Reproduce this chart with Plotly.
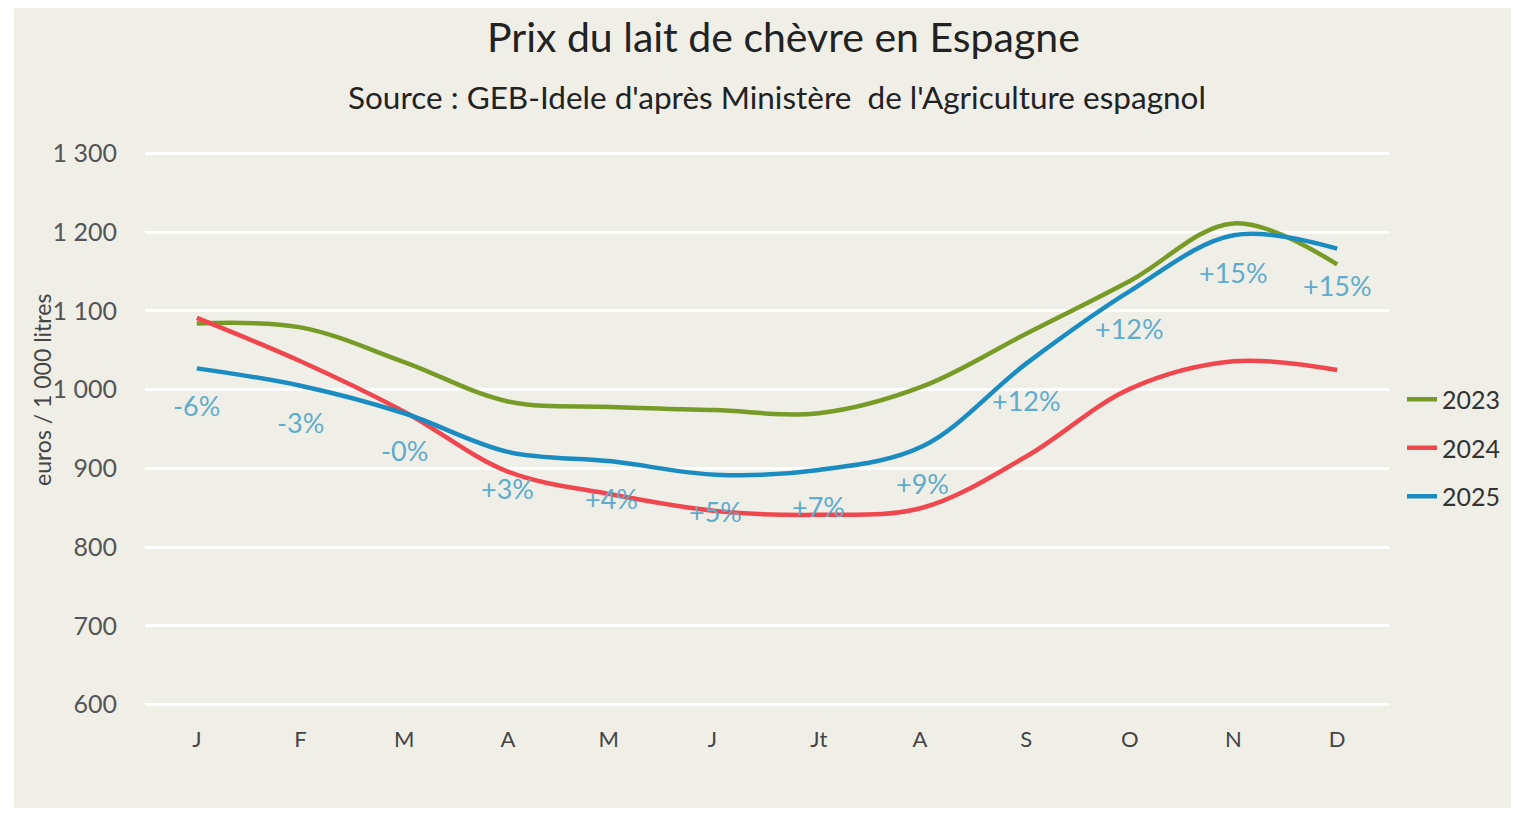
import plotly.graph_objects as go

months = ["J", "F", "M", "A", "M ", "J ", "Jt", "A ", "S", "O", "N", "D"]
prix_2023 = [1084, 1079, 1035, 985, 978, 974, 970, 1004, 1071, 1138, 1211, 1159]
prix_2024 = [1091, 1036, 972, 896, 867, 846, 841, 850, 915, 1001, 1036, 1025]
prix_2025 = [1027, 1005, 970, 921, 909, 892, 898, 928, 1033, 1125, 1196, 1179]
evolution = ["-6%", "-3%", "-0%", "+3%", "+4%", "+5%", "+7%", "+9%", "+12%", "+12%", "+15%", "+15%"]

BG = "#efefe8"
FONT = "Lato"

# figure geometry (page body adds an 8px margin)
W, H = 1519, 805
L, R, T, B = 137, 138, 143, 106
PW, PH = W - L - R, H - T - B


def px(x):
    return (x - 8 - L) / PW


def py(y):
    return (H - B - (y - 8)) / PH


fig = go.Figure()

series = [
    ("2023", prix_2023, "#789b27"),
    ("2024", prix_2024, "#f0474f"),
    ("2025", prix_2025, "#1b8cc2"),
]
for name, vals, color in series:
    fig.add_trace(go.Scatter(
        x=months, y=vals, name=name, mode="lines",
        line=dict(color=color, width=4.5, shape="spline", smoothing=1),
        legendgroup=name,
    ))

# % evolution 2025/2024 written under the 2025 curve
for m, v, txt in zip(months, prix_2025, evolution):
    fig.add_annotation(x=m, y=v, text=txt, showarrow=False, yshift=-37,
                       font=dict(family=FONT, size=27, color="#5fabcb"))

# beige panel with white frame
fig.add_shape(type="rect", xref="paper", yref="paper",
              x0=px(14), x1=px(1540), y0=py(808), y1=py(-5),
              fillcolor=BG, line_width=0, layer="below")

fig.add_annotation(xref="paper", yref="paper", x=px(42), y=py(390),
                   xanchor="center", yanchor="middle",
                   text="euros / 1 000 litres", textangle=-90, showarrow=False,
                   font=dict(family=FONT, size=23, color="#444"))

fig.add_annotation(xref="paper", yref="paper", x=px(783), y=py(37),
                   xanchor="center", yanchor="middle", showarrow=False,
                   text="Prix du lait de chèvre en Espagne",
                   font=dict(family=FONT, size=41, color="#222"))
fig.add_annotation(xref="paper", yref="paper", x=px(777), y=py(97),
                   xanchor="center", yanchor="middle", showarrow=False,
                   text="Source : GEB-Idele d'après Ministère  de l'Agriculture espagnol",
                   font=dict(family=FONT, size=31.5, color="#222"))

fig.update_layout(
    width=W, height=H,
    paper_bgcolor="white", plot_bgcolor="rgba(0,0,0,0)",
    margin=dict(l=L, r=R, t=T, b=B),
    separators=", ",
    font=dict(family=FONT, color="#333"),
    xaxis=dict(
        type="category", range=[-0.5, 11.5], showgrid=False, zeroline=False,
        showline=False, ticks="outside", ticklen=13, tickcolor="rgba(0,0,0,0)",
        tickfont=dict(family=FONT, size=22, color="#444"),
    ),
    yaxis=dict(
        range=[597, 1303], tickvals=[600, 700, 800, 900, 1000, 1100, 1200, 1300],
        tickformat=",.0f",
        showgrid=True, gridcolor="white", gridwidth=2.5, zeroline=False,
        ticks="outside", ticklen=22, tickcolor="rgba(0,0,0,0)",
        tickfont=dict(family=FONT, size=25, color="#555"),
    ),
    legend=dict(
        x=px(1402), xanchor="left", y=py(448), yanchor="middle",
        bgcolor="rgba(0,0,0,0)", tracegroupgap=13,
        font=dict(family=FONT, size=25, color="#333"),
    ),
)

fig.write_html("out.html")
